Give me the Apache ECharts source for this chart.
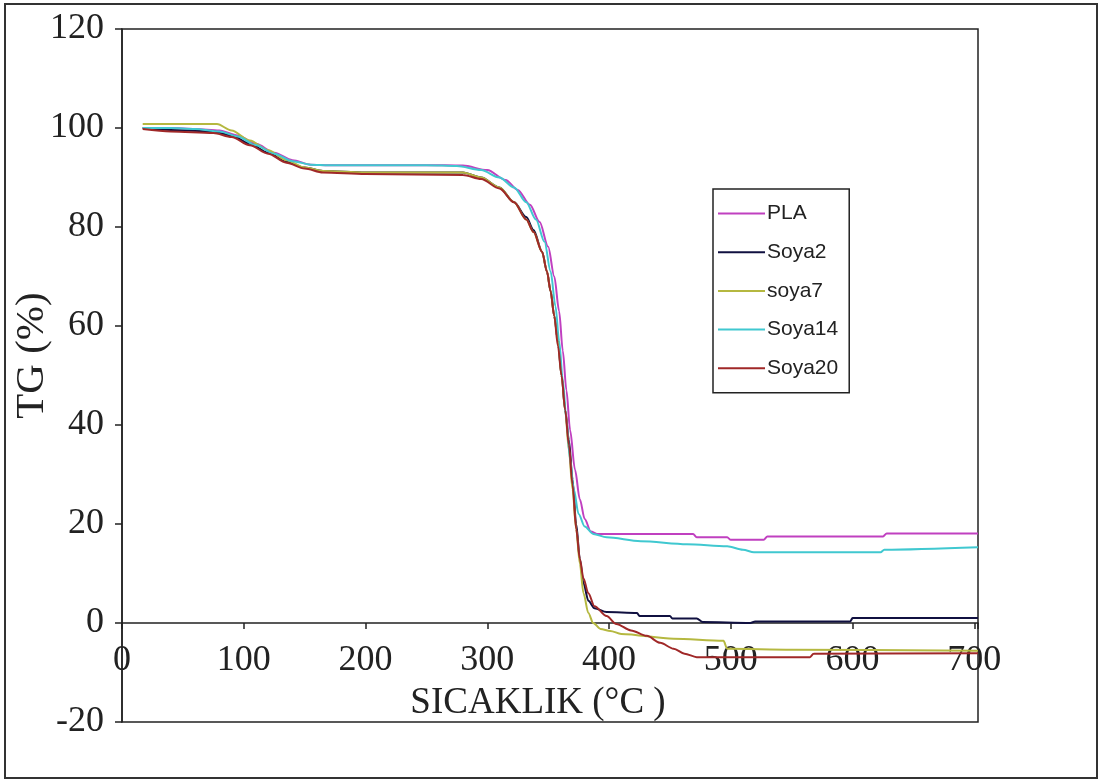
<!DOCTYPE html>
<html>
<head>
<meta charset="utf-8">
<script src="https://cdn.jsdelivr.net/npm/echarts@6/dist/echarts.min.js"></script>
<style>
html,body{margin:0;padding:0;background:#fff;}
#chart{width:1102px;height:780px;}
</style>
</head>
<body>
<div id="chart"></div>
<script>
// Temperature (°C) / mass (%) pairs
const seriesNames = ['PLA', 'Soya2', 'soya7', 'Soya14', 'Soya20'];

const plaData = [[17,100],[40,100],[60,99.8],[80,99.5],[95,98.5],[110,96.8],[125,95],[140,93.5],[155,92.6],[170,92.5],[200,92.5],[250,92.5],[280,92.4],[300,91.5],[315,89.5],[325,87.5],[335,84.5],[343,81],[350,76],[355,70],[359,63],[362,55],[365,47],[368,39],[372,31],[376,25],[380,21],[385,18.5],[390,18],[420,18],[469,18],[472,17.3],[497,17.3],[500,16.8],[527,16.8],[530,17.5],[625,17.5],[628,18.1],[703,18.1]];

const soya2Data = [[17,100],[40,99.6],[75,99.3],[90,98.5],[105,96.8],[120,95],[135,93.2],[150,92],[165,91.3],[200,91],[280,91],[295,90],[310,88],[322,85],[332,82],[338,79.4],[345,75],[349,71],[352,67],[355,62],[358,57],[361,50],[364,43],[367,37],[370,29],[373,20],[376,13],[379,8],[383,4.5],[388,3],[398,2.2],[423,2.0],[425,1.4],[450,1.4],[452,0.9],[472,0.9],[477,0.2],[516,0],[520,0.3],[598,0.3],[600,1.0],[703,1.0]];

const soya7Data = [[17,100.8],[40,100.8],[78,100.8],[90,99.5],[105,97.5],[120,95.5],[135,93.5],[150,92],[165,91.3],[200,91],[280,91],[295,90],[310,88],[322,85],[332,81.5],[338,79],[345,75],[349,71],[352,67],[355,62],[358,57],[361,50],[364,43],[367,35],[370,27],[373,19],[376,12],[379,6],[383,2],[387,0],[393,-1.2],[401,-1.6],[410,-2.2],[453,-3.2],[494,-3.6],[497,-5.2],[550,-5.4],[703,-5.6]];

const soya14Data = [[17,100],[40,100],[60,99.8],[80,99.3],[95,98.3],[110,96.5],[125,94.8],[140,93.3],[155,92.6],[170,92.5],[250,92.5],[275,92.3],[295,91.5],[310,90],[322,88],[332,85],[340,81.5],[347,77],[352,71],[356,64],[359,57],[362,49],[365,41],[368,33],[371,27],[375,22],[380,19.5],[387,18],[398,17.3],[426,16.5],[464,15.9],[497,15.5],[510,14.8],[519,14.3],[623,14.3],[626,14.8],[703,15.3]];

const soya20Data = [[17,99.8],[40,99.3],[75,99],[90,98.2],[105,96.5],[120,94.8],[135,93],[150,91.8],[165,91],[200,90.7],[280,90.5],[295,89.7],[310,87.8],[322,85],[332,81.5],[338,79],[345,75],[349,71],[352,67],[355,62],[358,56],[361,50],[364,43],[367,36],[370,28],[373,19],[376,13],[379,9],[383,6],[388,3.4],[398,1.4],[406,-0.2],[418,-1.5],[431,-2.6],[442,-4],[453,-5.2],[462,-6.2],[472,-6.9],[565,-6.9],[568,-6.2],[703,-6.1]];

const seriesData = [plaData, soya2Data, soya7Data, soya14Data, soya20Data];
const seriesColors = ['#c040c0', '#101040', '#b5b840', '#40c8d0', '#a02828'];

const xMin = 0, xMax = 703, xInterval = 100;
const yMin = -20, yMax = 120, yInterval = 20;

const serif = '"Liberation Serif", "Times New Roman", serif';

const gridTop = 29, gridBottom = 58, chartH = 780;
const plotH = chartH - gridTop - gridBottom;
// shift the x axis up so it sits on the y = 0 line (offset measured from grid bottom)
const zeroOffset = -plotH * (0 - yMin) / (yMax - yMin);

const chart = echarts.init(document.getElementById('chart'), null, {renderer: 'canvas'});
chart.setOption({
  animation: false,
  backgroundColor: '#ffffff',
  graphic: [{
    type: 'rect',
    shape: {x: 5, y: 4, width: 1092, height: 774},
    style: {fill: 'none', stroke: '#333', lineWidth: 2},
    silent: true
  }],
  grid: {
    left: 122, top: gridTop, right: 124, bottom: gridBottom,
    containLabel: false,
    outerBoundsMode: 'none',
    show: true, borderColor: '#222', borderWidth: 1.5, backgroundColor: 'transparent'
  },
  legend: {
    data: seriesNames,
    orient: 'vertical',
    left: 713, top: 189,
    padding: [14, 11, 14, 5],
    itemGap: 17.7,
    itemWidth: 47,
    itemHeight: 2,
    icon: 'rect',
    borderColor: '#222', borderWidth: 1.5,
    textStyle: {fontFamily: '"Liberation Sans", Arial, sans-serif', fontSize: 21, color: '#222', padding: [0,0,0,-3]}
  },
  xAxis: {
    type: 'value',
    position: 'bottom',
    offset: zeroOffset,
    min: xMin, max: xMax, interval: xInterval,
    name: 'SICAKLIK (°C )',
    nameLocation: 'middle',
    nameGap: 62,
    nameMoveOverlap: false,
    nameTextStyle: {fontFamily: serif, fontSize: 37, color: '#222', padding: [0, 24, 0, 0]},
    axisLine: {onZero: false, lineStyle: {color: '#222', width: 1.5}},
    axisTick: {show: true, inside: false, length: 6, lineStyle: {color: '#222', width: 1.5}},
    axisLabel: {
      fontFamily: serif, fontSize: 36, color: '#222', margin: 20,
      formatter: function (v) { return (v % 100 === 0) ? String(v) : ''; }
    },
    splitLine: {show: false}
  },
  yAxis: {
    type: 'value',
    min: yMin, max: yMax, interval: yInterval,
    name: 'TG (%)',
    nameLocation: 'middle',
    nameGap: 69,
    nameMoveOverlap: false,
    nameTextStyle: {fontFamily: serif, fontSize: 41, color: '#222', padding: [0, 0, 0, 40]},
    axisLine: {show: true, lineStyle: {color: '#222', width: 1.5}},
    axisTick: {show: true, inside: false, length: 7, lineStyle: {color: '#222', width: 1.5}},
    axisLabel: {fontFamily: serif, fontSize: 36, color: '#222', margin: 18},
    splitLine: {show: false}
  },
  series: seriesNames.map(function (name, i) {
    return {
      name: name,
      type: 'line',
      data: seriesData[i],
      showSymbol: false,
      symbol: 'none',
      smooth: 0.3,
      smoothMonotone: 'x',
      lineStyle: {color: seriesColors[i], width: 2},
      itemStyle: {color: seriesColors[i]},
      clip: true
    };
  })
});
</script>
</body>
</html>
